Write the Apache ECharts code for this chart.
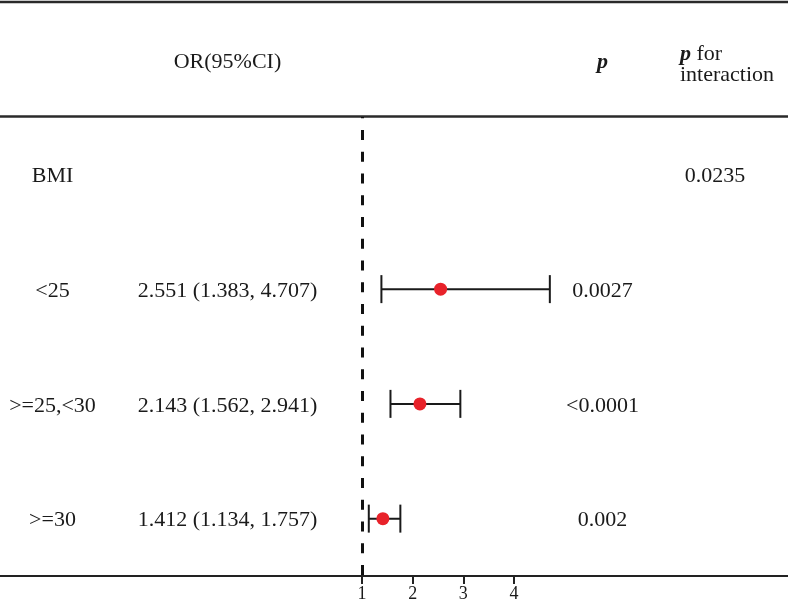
<!DOCTYPE html>
<html>
<head>
<meta charset="utf-8">
<title>forest plot</title>
<script src="https://cdn.jsdelivr.net/npm/echarts@6/dist/echarts.min.js"></script>
<style type="text/css">
  * {
    margin: 0;
    padding: 0;
  }
  body {
    background: #fff;
  }
</style>
</head>
<body>
<div id="forest" style="width: 788px;height: 603px;"></div>
<script type="text/javascript">
  // 数据
  const rowLabels = ['BMI', '<25', '>=25,<30', '>=30']
  const orValues = [null, 2.551, 2.143, 1.412]
  const ciLow = [null, 1.383, 1.562, 1.134]
  const ciHigh = [null, 4.707, 2.941, 1.757]
  const pValues = ['', '0.0027', '<0.0001', '0.002']
  const pInteraction = ['0.0235', '', '', '']
  const xTicks = [1, 2, 3, 4]

  const font = '"Liberation Serif", "Times New Roman", serif'
  const ink = '#1a1a1a'
  // 各列的位置（像素）
  const col = {label: 52.5, or: 227.5, p: 602.5, inter: 715, interHead: 680}

  function fmt(v) {
    return v.toFixed(3)
  }

  let orText = rowLabels.map(function (r, i) {
    return orValues[i] == null ? '' : fmt(orValues[i]) + ' (' + fmt(ciLow[i]) + ', ' + fmt(ciHigh[i]) + ')'
  })

  let ciData = []
  let pointData = []
  rowLabels.forEach(function (r, i) {
    if (orValues[i] == null) return
    ciData.push([ciLow[i], ciHigh[i], i])
    pointData.push([orValues[i], i])
  })

  function txt(x, y, text, extra) {
    let style = {
      text: text,
      fontFamily: font,
      fontSize: 22,
      fill: ink,
      align: 'center',
      verticalAlign: 'middle'
    }
    Object.assign(style, extra || {})
    return {type: 'text', x: x, y: y, style: style, silent: true}
  }

  let myChart = echarts.init(document.getElementById('forest'))
  myChart.setOption({
    backgroundColor: '#fff',
    animation: false,
    grid: {left: 0, right: 0, top: 117, bottom: 27},
    xAxis: {
      type: 'value',
      min: 1 - 362 / 50.67,
      max: 1 + 426 / 50.67,
      splitLine: {show: false},
      axisLine: {show: true, onZero: false, lineStyle: {color: '#222', width: 2}},
      axisTick: {show: true, customValues: xTicks, length: 8, lineStyle: {color: '#222', width: 2}},
      axisLabel: {customValues: xTicks, fontFamily: font, fontSize: 18, color: ink, margin: 9}
    },
    yAxis: {
      type: 'category',
      data: rowLabels,
      inverse: true,
      show: false
    },
    graphic: [
      // 表头上下的横线
      {type: 'line', shape: {x1: 0, y1: 2, x2: 788, y2: 2}, style: {stroke: '#2a2a2a', lineWidth: 2.5}, silent: true},
      {type: 'line', shape: {x1: 0, y1: 116.5, x2: 788, y2: 116.5}, style: {stroke: '#2a2a2a', lineWidth: 2.5}, silent: true},
      txt(col.or, 62, 'OR(95%CI)'),
      txt(col.p, 62, 'p', {fontStyle: 'italic', fontWeight: 'bold'}),
      txt(col.interHead, 64.5, '{i|p} for\ninteraction', {
        align: 'left',
        lineHeight: 21,
        rich: {i: {fontStyle: 'italic', fontWeight: 'bold', fontFamily: font, fontSize: 22, lineHeight: 21}}
      })
    ],
    series: [
      {
        // 表格文字
        name: 'table',
        type: 'custom',
        silent: true,
        data: rowLabels.map(function (r, i) {
          return [1, i]
        }),
        encode: {x: 0, y: 1},
        renderItem: function (params, api) {
          let i = params.dataIndex
          let y = api.coord([1, i])[1] + 2
          return {
            type: 'group',
            children: [
              txt(col.label, y, rowLabels[i]),
              txt(col.or, y, orText[i]),
              txt(col.p, y, pValues[i]),
              txt(col.inter, y, pInteraction[i])
            ]
          }
        },
        markLine: {
          silent: true,
          symbol: ['none', 'none'],
          label: {show: false},
          lineStyle: {color: '#111', width: 3, type: [10, 11.75], dashOffset: 8.75},
          data: [{xAxis: 1}]
        }
      },
      {
        // 置信区间
        name: 'CI',
        type: 'custom',
        silent: true,
        data: ciData,
        encode: {x: [0, 1], y: 2},
        renderItem: function (params, api) {
          let lo = api.coord([api.value(0), api.value(2)])
          let hi = api.coord([api.value(1), api.value(2)])
          let h = 14
          let st = {stroke: '#1a1a1a', lineWidth: 2}
          return {
            type: 'group',
            children: [
              {type: 'line', shape: {x1: lo[0], y1: lo[1], x2: hi[0], y2: hi[1]}, style: st},
              {type: 'line', shape: {x1: lo[0], y1: lo[1] - h, x2: lo[0], y2: lo[1] + h}, style: st},
              {type: 'line', shape: {x1: hi[0], y1: hi[1] - h, x2: hi[0], y2: hi[1] + h}, style: st}
            ]
          }
        }
      },
      {
        name: 'OR',
        type: 'scatter',
        silent: true,
        data: pointData,
        symbol: 'circle',
        symbolSize: 13,
        itemStyle: {color: '#e8222a', opacity: 1}
      }
    ]
  })
</script>
</body>
</html>
